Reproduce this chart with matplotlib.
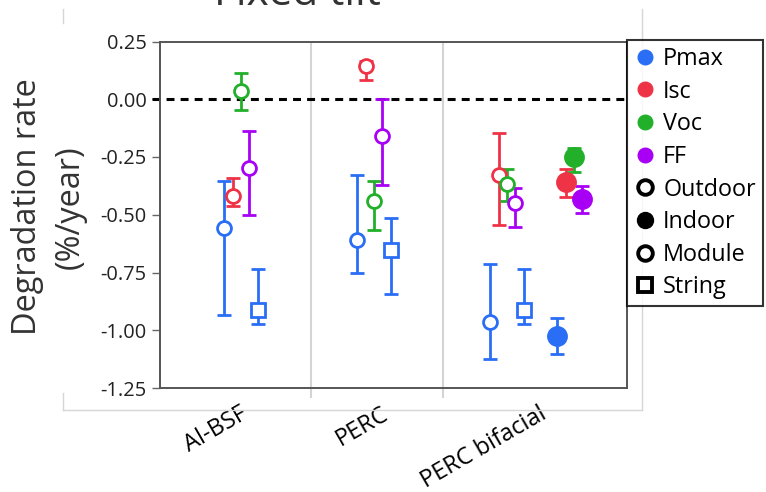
import numpy as np
import matplotlib
matplotlib.use('Agg')
from matplotlib import pyplot as plt
from matplotlib.lines import Line2D
import matplotlib.transforms as mtransforms

plt.rcParams['font.family'] = ['Open Sans', 'DejaVu Sans']

categories = ['Al-BSF', 'PERC', 'PERC bifacial']
params = ['Pmax', 'Isc', 'Voc', 'FF']

# outdoor, module level (rows: Pmax, Isc, Voc, FF; cols: categories)
outdoor_mid = np.array([[-0.557, -0.609, -0.965],
                        [-0.420, 0.143, -0.326],
                        [0.035, -0.439, -0.365],
                        [-0.296, -0.157, -0.448]])
outdoor_lo = np.array([[-0.935, -0.752, -1.126],
                       [-0.461, 0.083, -0.543],
                       [-0.048, -0.565, -0.439],
                       [-0.500, -0.370, -0.552]])
outdoor_hi = np.array([[-0.352, -0.330, -0.713],
                       [-0.339, 0.165, -0.148],
                       [0.113, -0.352, -0.304],
                       [-0.139, 0.000, -0.383]])

# outdoor, string level (Pmax only)
string_mid = np.array([-0.913, -0.652, -0.913])
string_lo = np.array([-0.974, -0.843, -0.974])
string_hi = np.array([-0.735, -0.513, -0.735])

# indoor, module level, PERC bifacial only
indoor_mid = np.array([-1.026, -0.357, -0.252, -0.430])
indoor_lo = np.array([-1.104, -0.422, -0.313, -0.491])
indoor_hi = np.array([-0.948, -0.300, -0.209, -0.374])

colors = ['#2a6ef5', '#ef3347', '#22b02a', '#a800f5']

# layout of the x axis (group spacing = 1)
step = 0.063
edges = [-0.609, 0.526, 1.519, 2.902]

fig = plt.figure(figsize=(7.66, 4.92), dpi=100)
ax = fig.add_axes([160/766, 1-388/492, (627-160)/766, (388-41.5)/492])

cx = np.arange(len(categories))

def draw(x, y, lo, hi, c, marker='o', filled=False, ms=10):
    ax.errorbar(x, y, yerr=[[y-lo], [hi-y]], fmt=marker, color=c,
                mfc=c if filled else 'white', mec=c, ms=ms, mew=2,
                elinewidth=2, capsize=5, capthick=2, zorder=3)

for k in range(len(params)):
    for i in range(len(categories)):
        draw(cx[i] + (k-2)*step, outdoor_mid[k, i], outdoor_lo[k, i], outdoor_hi[k, i], colors[k])
for i in range(len(categories)):
    draw(cx[i] + 2*step, string_mid[i], string_lo[i], string_hi[i], colors[0], marker='s', ms=10.5)
for k in range(len(params)):
    draw(cx[2] + (k+6)*step, indoor_mid[k], indoor_lo[k], indoor_hi[k], colors[k], filled=True, ms=13)

ax.axhline(0, xmin=-0.018, color='black', ls=(0, (2.6, 2)), lw=2.2, zorder=2, clip_on=False)
for e in edges[1:-1]:
    ax.axvline(e, color='#d4d4d4', lw=1.5, zorder=1)

ax.set_xlim(edges[0], edges[-1])
ax.set_ylim(-1.25, 0.25)
ax.set_yticks(np.arange(-1.25, 0.26, 0.25))
ax.set_yticklabels(['%.2f' % v for v in np.arange(-1.25, 0.26, 0.25)])

centers = [(edges[i] + edges[i+1]) / 2 for i in range(3)]
ax.set_xticks(centers)
ax.set_xticklabels(categories, rotation=30, ha='right', fontsize=17)
ax.set_xticks(edges[1:-1], minor=True)
ax.tick_params(axis='x', which='major', length=0, pad=10)
ax.tick_params(axis='x', which='minor', length=7, width=1.5, color='#d4d4d4')
ax.tick_params(axis='y', length=6, width=1, color='#666666', labelsize=14.4, labelcolor='#222222')
off = mtransforms.ScaledTranslation(16/100, 0, fig.dpi_scale_trans)
for lab in ax.get_xticklabels():
    lab.set_transform(lab.get_transform() + off)

for s in ax.spines.values():
    s.set_color('#555555')
    s.set_linewidth(1.4)

fig.text(49/766, 1-207/492, 'Degradation rate\n(%/year)', rotation=90, ha='center',
         va='center', multialignment='center', fontsize=23.4, color='#333333', linespacing=1.42)
fig.text(297/766, 1-5/492, 'Fixed tilt', ha='center', va='baseline', fontsize=30.5, color='#333333')

# faint outer frame
frame = dict(color='#d6d6d6', lw=1, transform=fig.transFigure)
fig.add_artist(Line2D([63/766, 63/766], [1-9/492, 1-23/492], **frame))
fig.add_artist(Line2D([63/766, 63/766], [1-393/492, 1-410/492], **frame))
fig.add_artist(Line2D([642/766, 642/766], [1-9/492, 1-410/492], **frame))
fig.add_artist(Line2D([63/766, 642/766], [1-410/492, 1-410/492], **frame))

handles = [Line2D([], [], ls='', marker='o', color=c, ms=10.5) for c in colors]
handles += [Line2D([], [], ls='', marker='o', mfc='white', mec='black', mew=2.8, ms=10.5),
            Line2D([], [], ls='', marker='o', color='black', ms=11.5),
            Line2D([], [], ls='', marker='o', mfc='white', mec='black', mew=2.8, ms=10.5),
            Line2D([], [], ls='', marker='s', mfc='white', mec='black', mew=2.8, ms=10.5)]
labels = params + ['Outdoor', 'Indoor', 'Module', 'String']
leg = fig.legend(handles, labels, loc='upper left', bbox_to_anchor=(627/766, 1-40/492),
                 fontsize=16.8, frameon=True, fancybox=False, edgecolor='black',
                 handlelength=0.95, handletextpad=0.3, labelspacing=0.37, borderpad=0.3,
                 borderaxespad=0)
leg.get_frame().set_linewidth(1.5)

fig.savefig('out.png', dpi=100)
